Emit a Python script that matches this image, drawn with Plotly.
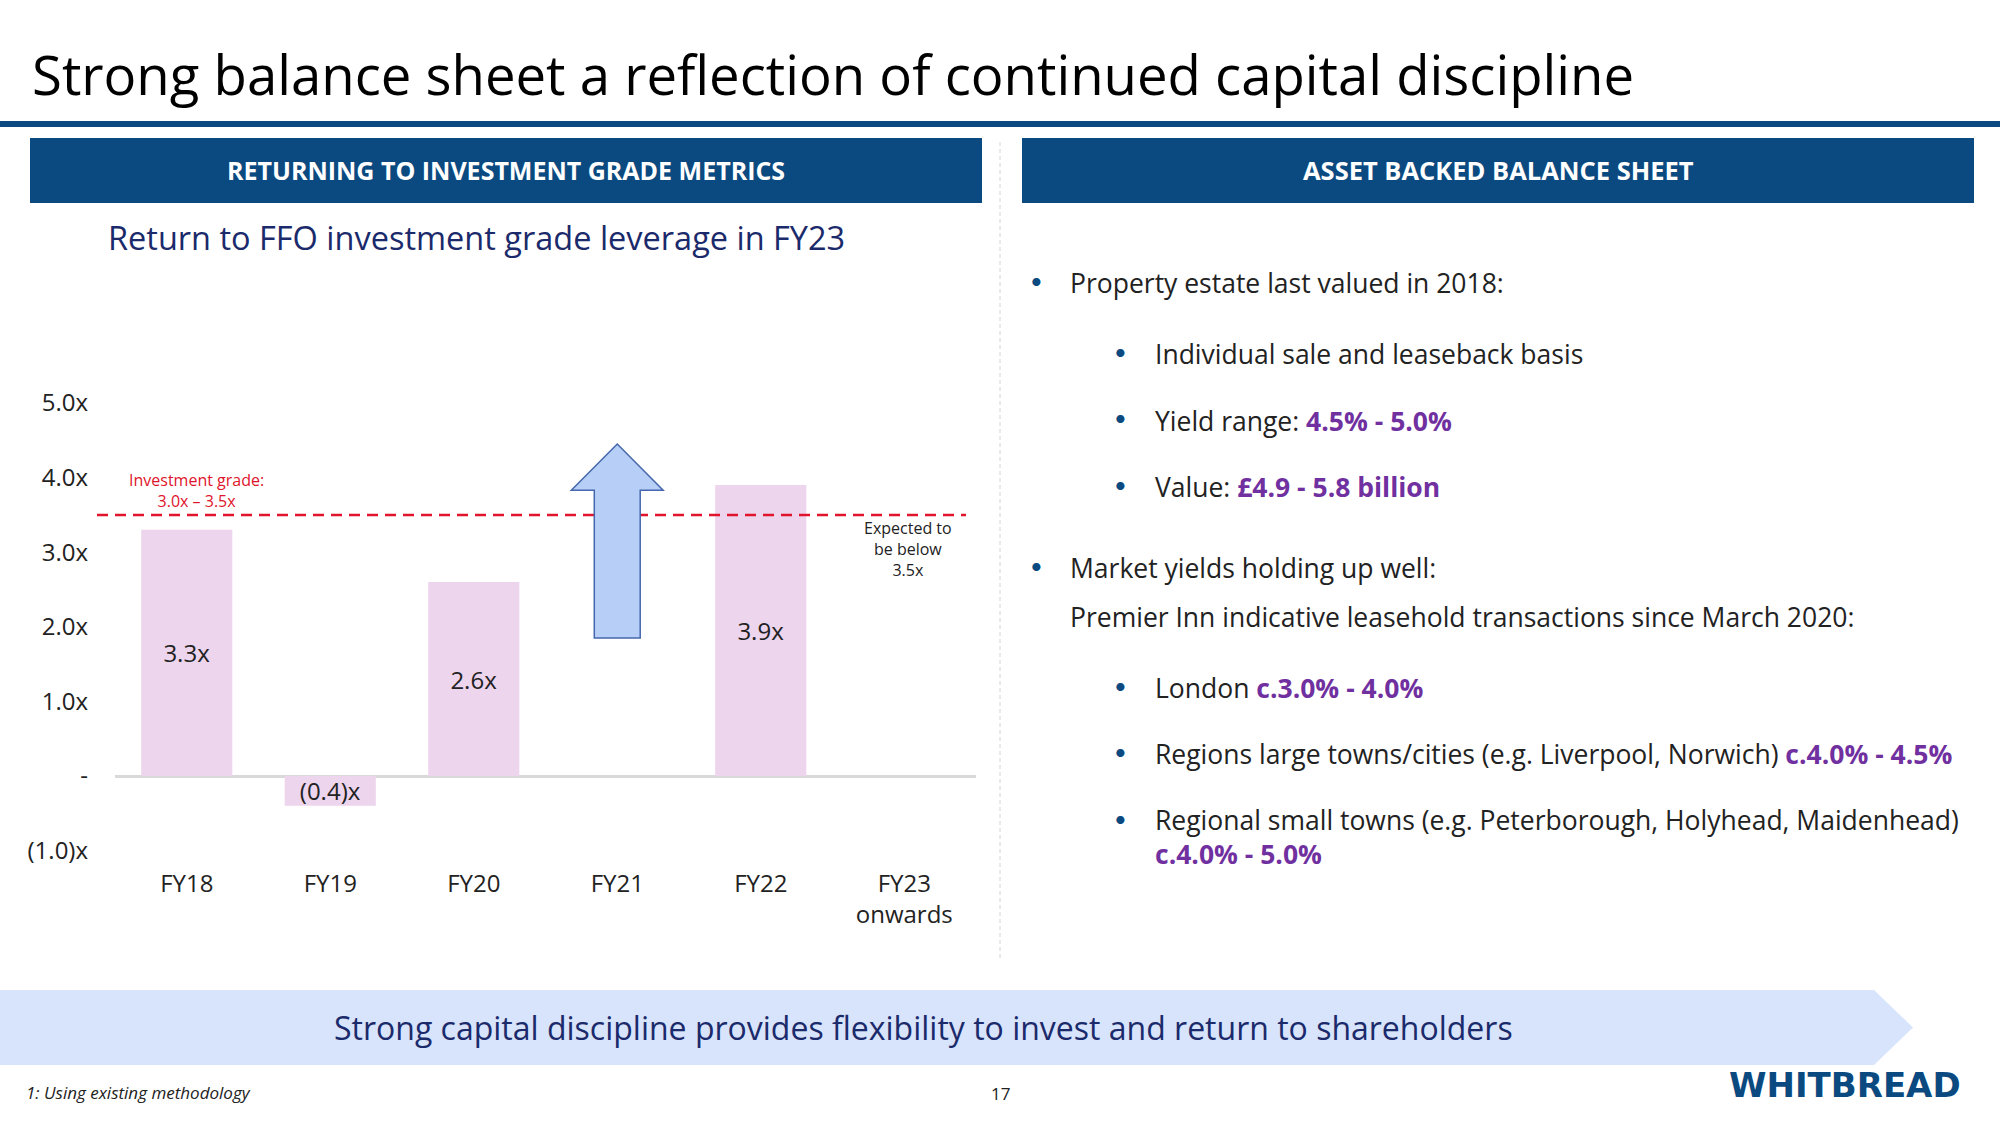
import plotly.graph_objects as go

# ---------------- data ----------------
categories = ["FY18", "FY19", "FY20", "FY21", "FY22", "FY23"]
category_tick_labels = ["FY18", "FY19", "FY20", "FY21", "FY22", "FY23<br>onwards"]
leverage = [3.3, -0.4, 2.6, None, 3.9, None]
leverage_labels = ["3.3x", "(0.4)x", "2.6x", "", "3.9x", ""]
y_tick_values = [-1, 0, 1, 2, 3, 4, 5]
y_tick_labels = ["(1.0)x", "-", "1.0x", "2.0x", "3.0x", "4.0x", "5.0x"]
investment_grade_upper = 3.5
fy21_arrow_from = 1.85
fy21_arrow_to = 4.45

W, H = 2000, 1125
FONT = "Open Sans"
NAVY = "#0b4a80"
PURPLE = "#7030a0"


def px(x):
    return x / W


def py(y):
    return 1 - y / H


fig = go.Figure()

x_idx = list(range(len(categories)))
fig.add_trace(go.Bar(
    x=x_idx, y=leverage, width=0.635,
    marker=dict(color="#edd5ed", line=dict(width=0)),
    text=leverage_labels, textposition="inside", insidetextanchor="middle",
    textfont=dict(family=FONT, size=24, color="#222222"),
    hoverinfo="skip", showlegend=False,
))

# y pixel mapping: y=0 at 776px, 74.6 px per unit
y_lo, y_hi = -1.2, 5.2
zero_px, unit_px = 776, 74.6
dom_bottom = py(zero_px - y_lo * unit_px)
dom_top = py(zero_px - y_hi * unit_px)

fig.update_layout(
    width=W, height=H, margin=dict(l=0, r=0, t=0, b=0, pad=0, autoexpand=False),
    paper_bgcolor="white", plot_bgcolor="white",
    font=dict(family=FONT, color="#222222"),
    xaxis=dict(domain=[px(115), px(976)], range=[-0.5, 5.5], type="linear",
               tickvals=x_idx, ticktext=category_tick_labels,
               showgrid=False, zeroline=False, showline=False, ticks="",
               tickfont=dict(family=FONT, size=24, color="#222222"),
               ticklabelstandoff=1, fixedrange=True, automargin=False),
    yaxis=dict(domain=[dom_bottom, dom_top], range=[y_lo, y_hi],
               tickvals=y_tick_values, ticktext=y_tick_labels,
               showgrid=False, zeroline=True, zerolinecolor="#d9d9d9", zerolinewidth=3,
               showline=False, ticks="",
               tickfont=dict(family=FONT, size=24, color="#222222"),
               ticklabelstandoff=26, fixedrange=True, automargin=False),
    uniformtext=dict(minsize=24, mode="show"),
    bargap=0.3,
)

shapes = []
# top rule
shapes.append(dict(type="rect", xref="paper", yref="paper", x0=0, x1=1, y0=py(127), y1=py(121),
                   fillcolor=NAVY, line=dict(width=0), layer="below"))
# header boxes
for x0, x1 in [(30, 982), (1022, 1974)]:
    shapes.append(dict(type="rect", xref="paper", yref="paper", x0=px(x0), x1=px(x1), y0=py(203), y1=py(138),
                       fillcolor=NAVY, line=dict(width=0), layer="below"))
# vertical separator
shapes.append(dict(type="line", xref="paper", yref="paper", x0=px(1000), x1=px(1000), y0=py(958), y1=py(140),
                   line=dict(color="#d4d4d4", width=1, dash="4px,3px")))
# bottom banner (chevron)
banner = (f"M 0,{py(990)} L {px(1874)},{py(990)} L {px(1913)},{py(1027.5)} "
          f"L {px(1874)},{py(1065)} L 0,{py(1065)} Z")
shapes.append(dict(type="path", xref="paper", yref="paper", path=banner,
                   fillcolor="#d7e4fb", line=dict(width=0), layer="below"))
# investment grade dashed line
shapes.append(dict(type="line", xref="paper", yref="y", x0=px(97), x1=px(966),
                   y0=investment_grade_upper, y1=investment_grade_upper,
                   line=dict(color="#e0142c", width=2.5, dash="11px,7px"), layer="above"))
# FY21 block arrow
ax = categories.index("FY21")
sw, hw = 0.16, 0.32
head_base = fy21_arrow_to - 0.62
arrow = (f"M {ax - sw},{fy21_arrow_from} L {ax + sw},{fy21_arrow_from} L {ax + sw},{head_base} "
         f"L {ax + hw},{head_base} L {ax},{fy21_arrow_to} L {ax - hw},{head_base} "
         f"L {ax - sw},{head_base} Z")
shapes.append(dict(type="path", xref="x", yref="y", path=arrow,
                   fillcolor="#b7cef6", line=dict(color="#4467ad", width=1.5), layer="above"))
fig.update_layout(shapes=shapes)

ann = []


def text(x, y, s, size, color="#222222", xanchor="left", yanchor="middle", align="left", family=FONT):
    ann.append(dict(x=px(x), y=py(y), xref="paper", yref="paper", text=s, showarrow=False,
                    xanchor=xanchor, yanchor=yanchor, align=align,
                    font=dict(family=family, size=size, color=color)))


# title
text(30, 74, "Strong balance sheet a reflection of continued capital discipline", 54.5, "#000000")
# headers
text(506, 170, "<b>RETURNING TO INVESTMENT GRADE METRICS</b>", 25, "white", xanchor="center", align="center")
text(1498, 170, "<b>ASSET BACKED BALANCE SHEET</b>", 25.5, "white", xanchor="center", align="center")
# chart subtitle
text(106, 238, "Return to FFO investment grade leverage in FY23", 32.5, "#1b2a6b")
# chart notes
text(196, 491, "Investment grade:<br>3.0x – 3.5x", 16, "#e0142c", xanchor="center", align="center")
text(908, 549, "Expected to<br>be below<br>3.5x", 16, "#222222", xanchor="center", align="center")


# right-hand bullets
def purple(s):
    return f"<span style='color:{PURPLE}'><b>{s}</b></span>"


BULLET_FONT = "Lato"
lvl1_bullet, lvl1_text = 1036, 1068
lvl2_bullet, lvl2_text = 1120, 1153
rows = [
    (1, 283, "Property estate last valued in 2018:"),
    (2, 354, "Individual sale and leaseback basis"),
    (2, 421, "Yield range: " + purple("4.5% - 5.0%")),
    (2, 487, "Value: " + purple("£4.9 - 5.8 billion")),
    (1, 568, "Market yields holding up well:"),
    (0, 617, "Premier Inn indicative leasehold transactions since March 2020:"),
    (2, 688, "London " + purple("c.3.0% - 4.0%")),
    (2, 754, "Regions large towns/cities (e.g. Liverpool, Norwich) " + purple("c.4.0% - 4.5%")),
]
for lvl, y, s in rows:
    if lvl == 1:
        text(lvl1_bullet, y - 3, "•", 22, NAVY, xanchor="center", family=BULLET_FONT)
        text(lvl1_text, y, s, 26.5)
    elif lvl == 2:
        text(lvl2_bullet, y - 3, "•", 22, NAVY, xanchor="center", family=BULLET_FONT)
        text(lvl2_text, y, s, 26.5)
    else:
        text(lvl1_text, y, s, 26.5)
text(lvl2_bullet, 818, "•", 22, NAVY, xanchor="center", family=BULLET_FONT)
text(lvl2_text, 837, "Regional small towns (e.g. Peterborough, Holyhead, Maidenhead)<br>" + purple("c.4.0% - 5.0%"),
     26.5)

# banner text
text(923, 1027, "Strong capital discipline provides flexibility to invest and return to shareholders", 32,
     "#1b2a6b", xanchor="center", align="center")
# footer
text(24, 1092, "<i>1: Using existing methodology</i>", 17, "#222222")
text(1001, 1093, "17", 17, "#222222", xanchor="center", align="center")
text(1845, 1085, "<b>WHITBREAD</b>", 34, NAVY, xanchor="center", align="center", family="DejaVu Sans")

fig.update_layout(annotations=ann)
fig.write_html("out.html")
